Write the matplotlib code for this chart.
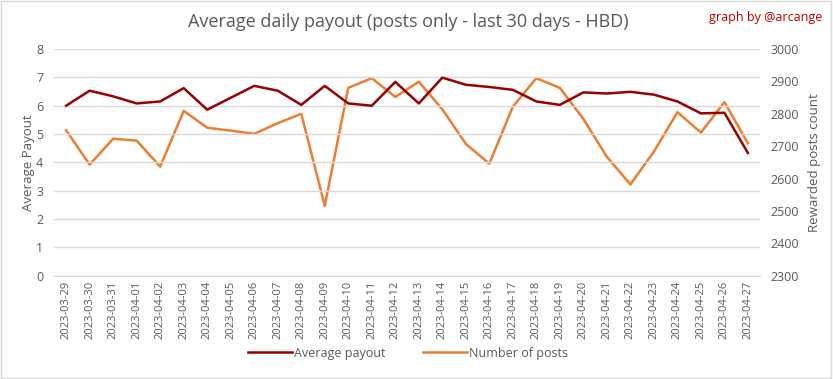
import matplotlib.pyplot as plt

dates = ['2023-03-29', '2023-03-30', '2023-03-31', '2023-04-01', '2023-04-02',
         '2023-04-03', '2023-04-04', '2023-04-05', '2023-04-06', '2023-04-07',
         '2023-04-08', '2023-04-09', '2023-04-10', '2023-04-11', '2023-04-12',
         '2023-04-13', '2023-04-14', '2023-04-15', '2023-04-16', '2023-04-17',
         '2023-04-18', '2023-04-19', '2023-04-20', '2023-04-21', '2023-04-22',
         '2023-04-23', '2023-04-24', '2023-04-25', '2023-04-26', '2023-04-27']

avg_payout = [6.00, 6.53, 6.33, 6.08, 6.15, 6.62, 5.86, 6.28, 6.70, 6.53,
              6.03, 6.70, 6.08, 6.00, 6.84, 6.08, 6.99, 6.74, 6.66, 6.56,
              6.15, 6.03, 6.47, 6.43, 6.49, 6.39, 6.15, 5.73, 5.75, 4.33]

num_posts = [2749, 2643, 2723, 2717, 2637, 2809, 2757, 2748, 2738, 2771,
             2800, 2516, 2880, 2910, 2852, 2899, 2814, 2707, 2646, 2822,
             2910, 2880, 2784, 2667, 2582, 2683, 2805, 2742, 2836, 2709]

grey = '#595959'
plt.rcParams['font.family'] = ['Open Sans', 'DejaVu Sans']

fig = plt.figure(figsize=(8.33, 3.79), dpi=100)
ax = fig.add_axes([0.0653, 0.2726, 0.8467, 0.598])
ax2 = ax.twinx()

x = list(range(len(dates)))
l1, = ax.plot(x, avg_payout, color='#990000', lw=1.8, label='Average payout', zorder=3)
l2, = ax2.plot(x, num_posts, color='#ED7D31', lw=1.8, label='Number of posts')
ax.set_zorder(ax2.get_zorder() + 1)
ax.patch.set_visible(False)

ax.set_xlim(-0.5, len(dates) - 0.5)
ax.set_ylim(0, 8)
ax2.set_ylim(2300, 3000)
ax.set_yticks(range(0, 9))
ax2.set_yticks(range(2300, 3001, 100))
ax.set_xticks(x)
ax.set_xticklabels(dates, rotation=90, fontsize=8, color=grey)
ax.tick_params(axis='y', labelsize=9, colors=grey, length=0, pad=8)
ax2.tick_params(axis='y', labelsize=9, colors=grey, length=0, pad=8)
ax.tick_params(axis='x', length=0, pad=4)
ax.grid(True, axis='y', color='#d9d9d9', lw=1)
for a in (ax, ax2):
    for s in a.spines.values():
        s.set_visible(False)
ax.spines['bottom'].set_visible(True)
ax.spines['bottom'].set_color('#d9d9d9')

ax.set_ylabel('Average Payout', color=grey, fontsize=9.5, labelpad=1)
ax2.set_ylabel('Rewarded posts count', color=grey, fontsize=9.5, labelpad=6)

fig.suptitle('Average daily payout (posts only - last 30 days - HBD)',
             x=0.49, y=0.965, fontsize=13, color=grey)
fig.text(0.987, 0.945, 'graph by @arcange', color='#c00000', fontsize=9, ha='right')

fig.legend(handles=[l1, l2], loc='center', bbox_to_anchor=(0.49, 0.068), ncol=2,
           frameon=False, fontsize=9, labelcolor=grey, handlelength=3.5,
           columnspacing=3, handletextpad=0.2)

fig.patches.append(plt.Rectangle((0.001, 0.002), 0.997, 0.995, transform=fig.transFigure,
                                 fill=False, edgecolor='#d9d9d9', lw=1))

plt.savefig('out.png', dpi=100)
